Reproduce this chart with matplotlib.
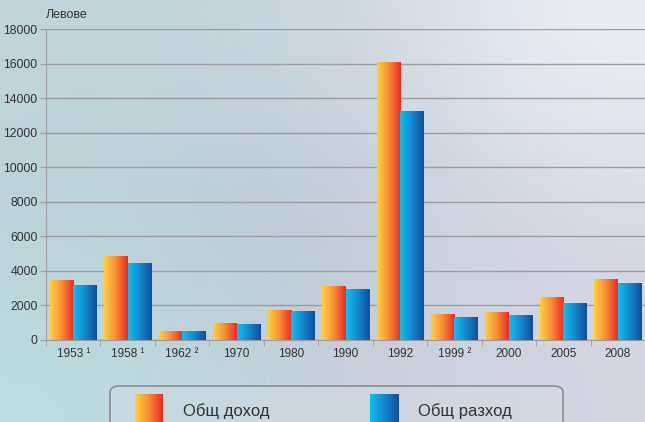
import numpy as np
import matplotlib.pyplot as plt
from matplotlib.colors import LinearSegmentedColormap
from matplotlib.patches import FancyBboxPatch

# data
years = ["1953 ¹", "1958 ¹", "1962 ²", "1970", "1980", "1990",
         "1992", "1999 ²", "2000", "2005", "2008"]
income = [3450, 4850, 500, 950, 1700, 3100, 16050, 1500, 1600, 2450, 3500]
expense = [3150, 4400, 500, 900, 1650, 2900, 13250, 1300, 1400, 2100, 3250]
y_ticks = [0, 2000, 4000, 6000, 8000, 10000, 12000, 14000, 16000, 18000]
labels = ["Общ доход", "Общ разход"]
unit_label = "Левове"

plt.rcParams['font.family'] = ['Liberation Sans', 'DejaVu Sans']

inc_cmap = LinearSegmentedColormap.from_list("inc", ["#FFD040", "#F58C35", "#EE2A26"])
exp_cmap = LinearSegmentedColormap.from_list("exp", ["#12BDF0", "#1488CC", "#114E9E"])
grad = np.linspace(0, 1, 64).reshape(1, -1)

fig = plt.figure(figsize=(6.45, 4.22), dpi=100)

# background gradient
bg = fig.add_axes([0, 0, 1, 1], zorder=-10)
corners = np.array([
    [[0xC2, 0xD4, 0xDA], [0xC8, 0xD2, 0xDC], [0xEC, 0xEE, 0xF4]],
    [[0xBC, 0xD2, 0xD8], [0xBA, 0xC4, 0xD0], [0xD8, 0xDA, 0xE6]],
    [[0xBC, 0xDC, 0xE0], [0xC4, 0xCC, 0xD8], [0xD4, 0xD6, 0xE2]],
]) / 255.0
bg.imshow(corners, extent=[0, 1, 0, 1], aspect='auto', interpolation='bicubic')
bg.set_axis_off()

ax = fig.add_axes([46 / 645, 1 - 340 / 422, 599 / 645, 311 / 422])
ax.patch.set_alpha(0)

x = np.arange(len(years))
w = 0.43
b1 = ax.bar(x - w / 2, income, w, color='none', zorder=3)
b2 = ax.bar(x + w / 2, expense, w, color='none', zorder=3)

for bars, cmap in [(b1, inc_cmap), (b2, exp_cmap)]:
    for p in bars:
        x0, y0 = p.get_x(), p.get_y()
        ax.imshow(grad, cmap=cmap, aspect='auto', zorder=3,
                  extent=[x0, x0 + p.get_width(), y0, y0 + p.get_height()])

ax.set_xlim(-0.5, len(years) - 0.5)
ax.set_ylim(0, 18000)
ax.set_yticks(y_ticks)
ax.set_yticklabels([str(v) for v in y_ticks], fontsize=8.8, color='#333333')
ax.grid(axis='y', color='#9C9CA2', linewidth=1.0, zorder=1)

ax.set_xticks(x)
ax.set_xticklabels(years, fontsize=8.5, color='#333333')
ax.set_xticks(np.arange(len(years) + 1) - 0.5, minor=True)
ax.tick_params(axis='x', which='major', length=0, pad=6)
ax.tick_params(axis='x', which='minor', length=4, color='#9C9CA2')
ax.tick_params(axis='y', length=4, color='#9C9CA2', pad=2)

for s in ['top', 'right']:
    ax.spines[s].set_visible(False)
ax.spines['left'].set_color('#9C9CA2')
ax.spines['bottom'].set_color('#9C9CA2')

ax.text(0.0, 1.025, unit_label, transform=ax.transAxes, fontsize=9,
        color='#333333', ha='left', va='bottom')

# legend box (cut off at the bottom edge as in the reference)
W, H = 645, 422
box = FancyBboxPatch((110 / W, -20 / H), 453 / W, 56 / H,
                     boxstyle="round,pad=0,rounding_size=0.015",
                     transform=fig.transFigure, facecolor='#DDE3EA',
                     alpha=0.3, edgecolor='none', zorder=5)
fig.patches.append(box)
box_edge = FancyBboxPatch((110 / W, -20 / H), 453 / W, 56 / H,
                          boxstyle="round,pad=0,rounding_size=0.015",
                          transform=fig.transFigure, facecolor='none',
                          edgecolor='#8C8C94', linewidth=1.2, zorder=6)
fig.patches.append(box_edge)

for (px, tx), cmap, lab in zip([(135, 183), (370, 418)], [inc_cmap, exp_cmap], labels):
    la = fig.add_axes([px / W, 0, 28 / W, 28 / H], zorder=7)
    la.imshow(grad, cmap=cmap, aspect='auto', extent=[0, 1, 0, 1])
    la.set_axis_off()
    fig.text(tx / W, 11 / H, lab, fontsize=12, color='#333333', ha='left',
             va='center', zorder=8)

fig.savefig("out.png", dpi=100)
